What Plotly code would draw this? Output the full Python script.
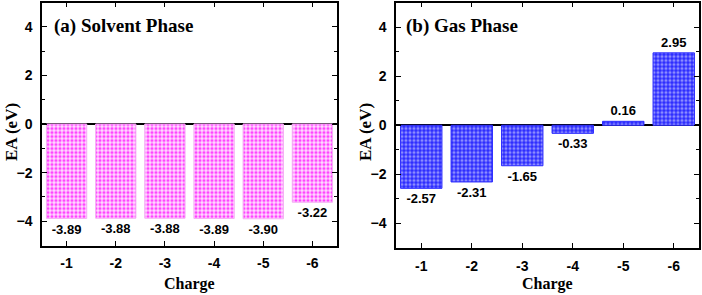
import plotly.graph_objects as go

charges = ["-1", "-2", "-3", "-4", "-5", "-6"]
solvent_ea = [-3.89, -3.88, -3.88, -3.89, -3.90, -3.22]
gas_ea = [-2.57, -2.31, -1.65, -0.33, 0.16, 2.95]
y_ticks = [-4, -2, 0, 2, 4]

fig = go.Figure()

fig.add_trace(go.Bar(
    x=charges, y=solvent_ea, xaxis="x", yaxis="y", width=0.82,
    text=[f"{v:.2f}" for v in solvent_ea], textposition="outside",
    textfont=dict(family="Liberation Sans", size=13, color="black", weight="bold"),
    cliponaxis=False,
    marker=dict(color="#ffd8ff",
                line=dict(color="#f4b0f4", width=1),
                pattern=dict(shape=".", size=4, solidity=0.5,
                             fgcolor="#ff44ff", bgcolor="#ffdcff", fillmode="replace")),
    showlegend=False,
))
fig.add_trace(go.Bar(
    x=charges, y=gas_ea, xaxis="x2", yaxis="y2", width=0.82,
    text=[f"{v:.2f}" for v in gas_ea], textposition="outside",
    textfont=dict(family="Liberation Sans", size=13, color="black", weight="bold"),
    cliponaxis=False,
    marker=dict(color="#4848ff",
                line=dict(color="#2c2cff", width=1),
                pattern=dict(shape=".", size=4, solidity=0.5,
                             fgcolor="#8c8cff", bgcolor="#2a2aff", fillmode="replace")),
    showlegend=False,
))

W, H = 702, 295
def px_x(v):
    return v / W
def px_y(v):
    return 1 - v / H

tickfont = dict(family="Liberation Sans", size=14, color="black", weight="bold")
common_x = dict(showline=True, linecolor="black", linewidth=1.5, mirror="ticks",
                ticks="inside", ticklen=5, tickwidth=1.2, tickcolor="black",
                tickfont=tickfont, range=[-0.5, 5.5], showgrid=False, zeroline=False,
                ticklabelstandoff=4)
common_y = dict(showline=True, linecolor="black", linewidth=1.5, mirror="ticks",
                ticks="inside", ticklen=5, tickwidth=1.2, tickcolor="black",
                tickfont=tickfont, range=[-5, 5], tickvals=y_ticks, showgrid=False,
                zeroline=True, zerolinecolor="black", zerolinewidth=1.5,
                minor=dict(ticks="inside", ticklen=3, dtick=1, tickcolor="black", tickwidth=1),
                ticklabelstandoff=5)

fig.update_layout(
    width=W, height=H,
    margin=dict(l=0, r=0, t=0, b=0),
    paper_bgcolor="white", plot_bgcolor="white",
    xaxis=dict(domain=[px_x(42), px_x(337)], anchor="y", **common_x),
    yaxis=dict(domain=[px_y(245.5), px_y(2.5)], anchor="x", **common_y),
    xaxis2=dict(domain=[px_x(396), px_x(699)], anchor="y2", **common_x),
    yaxis2=dict(domain=[px_y(248), px_y(2.5)], anchor="x2", **common_y),
)

serif_bold = dict(family="Liberation Serif", color="black", weight="bold")
annotations = [
    dict(text="(a) Solvent Phase", x=px_x(52), y=px_y(26), xanchor="left", yanchor="middle",
         font=dict(size=19, **serif_bold)),
    dict(text="(b) Gas Phase", x=px_x(404), y=px_y(26), xanchor="left", yanchor="middle",
         font=dict(size=19, **serif_bold)),
    dict(text="Charge", x=px_x(189.5), y=px_y(284), xanchor="center", yanchor="middle",
         font=dict(size=16, **serif_bold)),
    dict(text="Charge", x=px_x(547.5), y=px_y(284), xanchor="center", yanchor="middle",
         font=dict(size=16, **serif_bold)),
    dict(text="EA (eV)", x=px_x(11), y=px_y(132), xanchor="center", yanchor="middle",
         textangle=-90, font=dict(size=17, **serif_bold)),
    dict(text="EA (eV)", x=px_x(365), y=px_y(132), xanchor="center", yanchor="middle",
         textangle=-90, font=dict(size=17, **serif_bold)),
]
for a in annotations:
    a.update(xref="paper", yref="paper", showarrow=False)
fig.update_layout(annotations=annotations)

fig.write_html("out.html", config={"displayModeBar": False},
               post_script="document.body.style.margin='0';document.body.style.padding='0';")
